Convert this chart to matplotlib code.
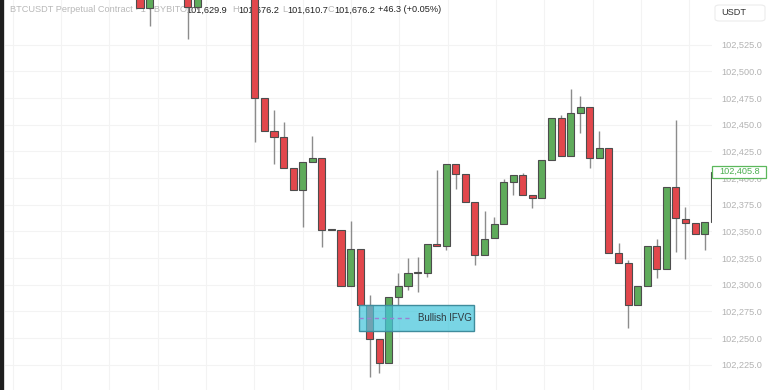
import numpy as np
import matplotlib
matplotlib.use("Agg")
import matplotlib.pyplot as plt
from matplotlib.patches import Rectangle, FancyBboxPatch
from matplotlib.ticker import FuncFormatter, FixedLocator

plt.rcParams['font.family'] = ['Liberation Sans', 'DejaVu Sans']

N = None
opens = [102582, 102559.2, N, N, N, 102582, 102560.1, N, N, N, N, N,
         102600, 102474.9, 102444.0, 102438.3, 102409.3, 102388.7, 102414.9, 102418.7,
         102351.2, 102351.2, 102298.7, 102333.4, 102281.0, 102249.1, 102226.6, 102288.5,
         102298.7, 102310.9, 102310.9, 102338.1, 102336.2, 102413.1, 102403.7, 102377.5,
         102327.8, 102343.7, 102356.9, 102396.2, 102402.8, 102384.0, 102381.2, 102416.8,
         102456.1, 102420.5, 102460.8, 102466.5, 102418.7, 102428.0, 102329.7, 102320.3,
         102281.0, 102298.7, 102336.2, 102314.7, 102391.5, 102361.5, 102357.8, 102347.5,
         102358.7]
closes = [102559.2, 102578, N, N, N, 102560.1, 102580, N, N, N, N, N,
          102474.9, 102444.0, 102438.3, 102409.3, 102388.7, 102414.9, 102418.7, 102351.2,
          102351.2, 102298.7, 102333.4, 102281.0, 102249.1, 102226.6, 102288.5, 102298.7,
          102310.9, 102310.9, 102338.1, 102336.2, 102413.1, 102403.7, 102377.5, 102327.8,
          102342.8, 102356.9, 102396.2, 102402.8, 102384.0, 102381.2, 102416.8, 102456.1,
          102420.5, 102460.8, 102466.5, 102418.7, 102428.0, 102329.7, 102320.3, 102281.0,
          102298.7, 102336.2, 102314.7, 102391.5, 102362.5, 102357.8, 102347.5, 102358.7,
          102405.8]
highs = [102590, 102585, N, N, N, 102590, 102585, N, N, N, N, N,
         102610, 102474.9, 102463.6, 102452.4, 102409.3, 102414.9, 102439.3, 102418.7,
         102351.2, 102351.2, 102359.6, 102333.4, 102290.3, 102249.1, 102288.5, 102310.9,
         102325.0, 102325.9, 102338.1, 102407.4, 102413.1, 102413.1, 102403.7, 102377.5,
         102369.0, 102363.4, 102399.0, 102402.8, 102404.6, 102384.0, 102416.8, 102456.1,
         102459.0, 102483.3, 102476.8, 102466.5, 102444.0, 102428.0, 102339.0, 102323.1,
         102298.7, 102336.2, 102342.8, 102391.5, 102454.3, 102372.8, 102357.8, 102358.7,
         102405.8]
lows = [102559.2, 102542.3, N, N, N, 102530.2, 102558, N, N, N, N, N,
        102433.7, 102444.0, 102413.1, 102409.3, 102388.7, 102354.0, 102414.9, 102335.3,
        102351.2, 102298.7, 102298.7, 102281.0, 102213.5, 102217.3, 102226.6, 102281.0,
        102295.0, 102293.1, 102307.2, 102336.2, 102332.5, 102389.6, 102377.5, 102318.4,
        102327.8, 102343.7, 102356.9, 102384.0, 102384.0, 102371.8, 102381.2, 102416.8,
        102420.5, 102420.5, 102442.1, 102409.3, 102418.7, 102329.7, 102320.3, 102259.5,
        102281.0, 102298.7, 102306.3, 102314.7, 102330.6, 102324.1, 102347.5, 102332.5,
        102358.7]

price_ticks = [102200, 102225, 102250, 102275, 102300, 102325, 102350, 102375,
               102400, 102425, 102450, 102475, 102500, 102525]
last_price = 102405.8
fvg_label = "Bullish IFVG"
fvg_top, fvg_bottom = 102281.0, 102256.6
fvg_start, fvg_end = 22.9, 34.9

def arr(v):
    return np.array([np.nan if x is None else x for x in v], dtype=float)

o, c, h, l = arr(opens), arr(closes), arr(highs), arr(lows)
idx = np.arange(len(o))
valid = ~np.isnan(o)

W, H = 768, 390
fig = plt.figure(figsize=(W / 100, H / 100), dpi=100, facecolor='white')
ax = fig.add_axes([4 / W, 0, 708 / W, 1])
ax.set_facecolor('white')

px_per_bar = 9.57
x0_px = 140
xl = (4 - x0_px) / px_per_bar
xr = (712 - x0_px) / px_per_bar
ax.set_xlim(xl, xr)
ppu = 1.0675
ax.set_ylim(102525 - (390 - 44.5) / ppu, 102525 + 44.5 / ppu)

green = '#5fab5b'
red = '#e2474c'
edge = '#4d4d4d'
wick = '#8c8c8c'

up = valid & (c >= o)
dn = valid & (c < o)
bw = 0.74
ax.vlines(idx[valid], l[valid], h[valid], color=wick, lw=1.0, zorder=3)
for mask, col in ((up, green), (dn, red)):
    bottoms = np.minimum(o[mask], c[mask])
    heights = np.maximum(np.abs(c[mask] - o[mask]), 0.8)
    ax.bar(idx[mask], heights, bottom=bottoms, width=bw, color=col,
           edgecolor=edge, linewidth=0.8, zorder=4)

# grid
ax.yaxis.set_major_locator(FixedLocator(price_ticks))
ax.xaxis.set_major_locator(FixedLocator(list(np.arange(-13.3, 62, 5.05))))
ax.grid(True, color='#f3f3f3', lw=0.8, zorder=0)
ax.set_axisbelow(True)
ax.tick_params(axis='x', length=0, labelbottom=False)
ax.yaxis.tick_right()
ax.tick_params(axis='y', length=0, pad=7, labelsize=6.6, labelcolor='#b3b3b3')
ax.yaxis.set_major_formatter(FuncFormatter(lambda v, p: f"{v:,.1f}"))
for s in ax.spines.values():
    s.set_visible(False)

# IFVG zone
ax.add_patch(Rectangle((fvg_start, fvg_bottom), fvg_end - fvg_start, fvg_top - fvg_bottom,
                       facecolor='#45c6db', alpha=0.72, edgecolor='none', zorder=6))
ax.add_patch(Rectangle((fvg_start, fvg_bottom), fvg_end - fvg_start, fvg_top - fvg_bottom,
                       facecolor='none', edgecolor='#3f8c9c', lw=1.0, zorder=7))
mid = (fvg_top + fvg_bottom) / 2
ax.plot([fvg_start, 28.4], [mid, mid], color='#9a7fd4', lw=1.0, ls=(0, (3, 2.5)), zorder=7)
ax.text(fvg_end - 0.25, mid, fvg_label, ha='right', va='center', fontsize=7,
        color='#2e3a40', zorder=8)

# header text (beneath candles, above grid)
def ftxt(xpx, s, col, **kw):
    ax.text(xpx / W, 1 - 10 / H, s, transform=fig.transFigure, ha='left', va='center',
            fontsize=6.6, color=col, zorder=2, **kw)

ftxt(10, "BTCUSDT Perpetual Contract · 1 · BYBIT", '#b8b8b8')
ftxt(180, "O", '#b8b8b8'); ftxt(186, "101,629.9", '#222222')
ftxt(232, "H", '#b8b8b8'); ftxt(238, "101,676.2", '#222222')
ftxt(282, "L", '#b8b8b8'); ftxt(287, "101,610.7", '#222222')
ftxt(328, "C", '#b8b8b8'); ftxt(334, "101,676.2", '#222222')
ftxt(378, "+46.3 (+0.05%)", '#222222')

# USDT box
fig.patches.append(FancyBboxPatch((715 / W, 1 - 21 / H), 50 / W, 16 / H,
                                  boxstyle="round,pad=0,rounding_size=0.006",
                                  transform=fig.transFigure, facecolor='white',
                                  edgecolor='#ececec', lw=0.8))
fig.text(721 / W, 1 - 12.5 / H, "USDT", ha='left', va='center', fontsize=6.6, color='#333333')

# last price label
yl = ax.transData.transform((0, last_price))[1]
ax.add_patch(Rectangle((712 / W, (yl - 6) / H), 54 / W, 12 / H, transform=fig.transFigure,
                       facecolor='white', edgecolor='#5cb85c', lw=0.9, zorder=20, clip_on=False))
ax.text(719 / W, yl / H, f"{last_price:,.1f}", transform=fig.transFigure, ha='left', va='center',
        fontsize=6.6, color='#4caf50', zorder=21, clip_on=False)

# dark left border
fig.patches.append(Rectangle((0, 0), 4 / W, 1, transform=fig.transFigure,
                             facecolor='#1f1f1f', edgecolor='none'))
fig.patches.append(Rectangle((4 / W, 0), 1 / W, 1, transform=fig.transFigure,
                             facecolor='#d8d8d8', edgecolor='none'))

fig.savefig("out.png", dpi=100, facecolor='white')
